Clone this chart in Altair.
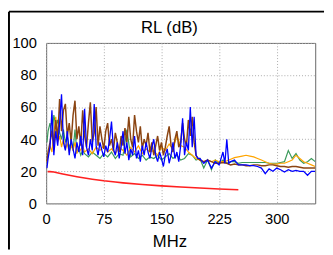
import altair as alt
import pandas as pd

FONT = "Liberation Sans"

# Frequency grids (MHz)
F_LOW = [1, 2.5, 5, 7.5, 10, 12.5, 15, 17.5, 20, 22.5, 25, 27.5, 30, 32.5, 35, 37.5,
         40, 42.5, 45, 47.5, 50, 52.5, 55, 57.5, 60, 62.5, 65, 67.5, 70, 72.5, 75, 77.5,
         80, 82.5, 85, 87.5, 90, 92.5, 95, 97.5, 100, 102.5, 105, 107.5, 110, 112.5, 115,
         117.5, 120, 122.5, 125, 127.5, 130, 132.5, 135, 137.5, 140, 142.5, 145, 147.5,
         150, 152.5, 155, 157.5, 160, 162.5, 165, 167.5, 170, 172.5, 175, 177.5, 180,
         182.5, 185, 187.5, 190, 192.5, 195, 197.5, 200]
F_HIGH = [205, 210, 215, 220, 225, 230, 235, 240, 245, 250, 255, 260, 265, 270, 275,
          280, 285, 290, 295, 300, 305, 310, 315, 320, 325, 330, 335, 340, 345, 350]
F_COARSE = [1, 2.5, 5, 7.5, 10, 12.5, 15, 17.5, 20, 22.5, 25, 27.5, 30, 32.5, 35, 37.5,
            40, 42.5, 45, 47.5, 50, 55, 60, 65, 70, 75, 80, 85, 90, 95, 100, 105, 110,
            115, 120, 125, 130, 135, 140, 145, 150, 155, 160, 165, 170, 175, 180, 185,
            190, 195, 200]
F_BLUE_HIGH = [205, 210, 215, 220, 225, 230, 232.5, 235, 237.5, 240, 245, 250, 255, 260,
               265, 270, 275, 280, 285, 290, 295, 300, 305, 310, 315, 320, 325, 330, 335,
               340, 345, 350]

# Return loss traces (dB)
brown_low = [26, 32, 38, 45, 35, 52, 40, 65, 45, 58, 62, 42, 50, 38, 55, 64, 40, 48, 36, 58,
             42, 35, 50, 63, 38, 44, 60, 36, 48, 40, 34, 45, 50, 36, 40, 33, 44, 38, 32, 42,
             36, 47, 38, 54, 40, 35, 55, 45, 38, 48, 34, 40, 36, 44, 32, 38, 30, 36, 42, 33,
             38, 30, 35, 42, 48, 36, 32, 40, 45, 35, 38, 50, 40, 36, 52, 42, 54, 38, 30, 28,
             27]
brown_high = [26, 27, 26, 25, 25, 25.5, 25, 24, 24.5, 24, 24, 23.5, 23.5, 24, 24, 23.5, 23.5,
              24, 24, 23.5, 23, 23, 22.5, 23, 23, 22.5, 22, 22, 22, 22]

blue_low = [22, 28, 35, 58, 30, 45, 36, 50, 68, 38, 33, 45, 30, 40, 34, 28, 38, 32, 42, 30,
            59, 35, 30, 40, 33, 62, 36, 30, 38, 33, 29, 36, 32, 40, 51, 34, 30, 38, 28, 35,
            45, 31, 38, 27, 34, 30, 42, 28, 33, 26, 36, 30, 38, 32, 28, 35, 40, 30, 26, 32,
            28, 23, 30, 34, 25, 30, 38, 28, 32, 26, 36, 53, 30, 38, 33, 60, 35, 54, 30, 28,
            28]
blue_high = [25, 27, 22, 26, 24, 32, 25, 40, 25, 26, 27, 24, 24, 24, 23.5, 23.5, 23, 22, 18.5,
             21.5, 20, 22, 21, 19.5, 21, 20, 20.5, 20, 20, 17.5, 20, 20]

green_low = [38, 45, 50, 42, 55, 48, 52, 44, 40, 46, 38, 42, 35, 38, 33, 46, 32, 34, 30, 33,
             31, 29, 32, 30, 28, 31, 29, 32, 28, 31, 30, 46, 29, 31, 28, 30, 27, 29, 28, 30,
             27, 29, 31, 28, 30, 27, 28, 31, 30, 27, 28]
green_high = [22, 27, 21, 27, 25, 27, 25, 26, 26, 25, 25.5, 25.5, 25.5, 25.5, 25.5, 25.5, 25.5,
              25, 25, 25, 25.5, 26, 33, 28, 31, 27, 25, 26, 28, 26]

orange_low = [26, 30, 36, 32, 44, 54, 38, 42, 35, 40, 34, 37, 32, 36, 33, 38, 31, 35, 33, 36,
              32, 34, 31, 35, 33, 36, 32, 34, 31, 35, 33, 30, 35, 32, 36, 31, 34, 32, 33, 30,
              35, 33, 37, 34, 42, 36, 35, 32, 30, 28, 27]
orange_high = [26, 27, 26, 27, 26, 26, 26.5, 27.5, 28.5, 29, 29.5, 30, 29.5, 29, 28, 27, 26,
               25, 24.5, 24.5, 25, 25, 26, 27, 30, 28, 26, 25, 24, 23]

red_f = [2, 5, 10, 20, 30, 40, 50, 60, 75, 90, 100, 125, 150, 175, 200, 225, 250]
red_db = [19.8, 19.8, 19.6, 18.5, 17.5, 16.6, 15.8, 15.1, 14.1, 13.3, 12.8, 11.8, 10.9,
          10.2, 9.6, 9.0, 8.5]

X_TICKS = [0, 75, 150, 225, 300]
Y_TICKS = [0, 20, 40, 60, 80, 100]
TITLE = ["RL (dB)"]

x_scale = alt.Scale(domain=[0, 350], nice=False, zero=False)
y_scale = alt.Scale(domain=[0, 100], nice=False)

x_axis = alt.Axis(values=X_TICKS, grid=True, gridDash=[1, 2], gridColor="#aaaaaa",
                  ticks=False, tickSize=0, domain=False, labelFont=FONT, labelFontSize=15,
                  labelColor="black", labelPadding=9, labelFlush=False,
                  title="MHz", titleFont=FONT, titleFontSize=17, titleFontWeight="normal",
                  titleColor="black", titleX=126, titleY=44, titleBaseline="alphabetic",
                  titleAlign="center")
y_axis = alt.Axis(values=Y_TICKS, grid=True, gridDash=[1, 2], gridColor="#aaaaaa",
                  ticks=False, tickSize=0, domain=False, labelFont=FONT, labelFontSize=15,
                  labelColor="black", labelPadding=10, labelFlush=False, title=None)


def trace(f, v, color, width):
    df = pd.DataFrame({"MHz": f, "dB": v})
    return alt.Chart(df).mark_line(color=color, strokeWidth=width, clip=True).encode(
        x=alt.X("MHz:Q", scale=x_scale, axis=x_axis),
        y=alt.Y("dB:Q", scale=y_scale, axis=y_axis),
    )


green = trace(F_COARSE + F_HIGH, green_low + green_high, "#3a9a5a", 1.2)
orange = trace(F_COARSE + F_HIGH, orange_low + orange_high, "#ffa500", 1.2)
blue = trace(F_LOW + F_BLUE_HIGH, blue_low + blue_high, "#0000ff", 1.3)
brown = trace(F_LOW + F_HIGH, brown_low + brown_high, "#8b4513", 1.5)
red = trace(red_f, red_db, "#ff2020", 1.6)

one = pd.DataFrame({"t": TITLE})
title = alt.Chart(one).mark_text(font=FONT, fontSize=17, align="center",
                                 baseline="alphabetic", color="black").encode(
    x=alt.value(126), y=alt.value(-10.5), text="t:N")
top_rule = alt.Chart(one).mark_rule(color="black", strokeWidth=2).encode(
    x=alt.value(-38), x2=alt.value(284), y=alt.value(-32))
left_rule = alt.Chart(one).mark_rule(color="black", strokeWidth=2).encode(
    x=alt.value(-38), y=alt.value(-32), y2=alt.value(211))

chart = alt.layer(green, orange, brown, blue, red, title, top_rule, left_rule).properties(
    width=275, height=164, background="white",
    padding={"left": 0, "top": 0, "right": 0, "bottom": 0},
).configure_view(stroke="#666666", strokeWidth=1)

chart.save("out.html", embed_options={"renderer": "svg", "actions": False})
